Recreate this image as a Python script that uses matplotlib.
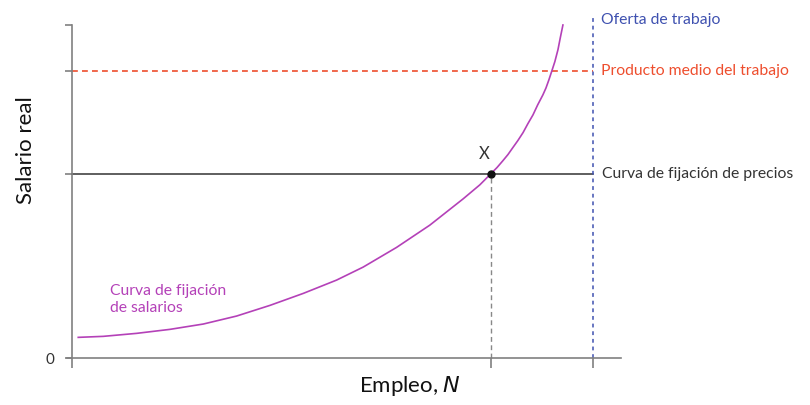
import matplotlib
matplotlib.use("Agg")
import matplotlib.pyplot as plt

plt.rcParams['font.family'] = ['Lato', 'DejaVu Sans']

# --- datos (unidades arbitrarias, eje de 0 a 100) ---
curva_x = [1.2, 6.0, 12.4, 18.8, 25.2, 31.6, 38.0, 44.4, 50.8, 55.9, 62.3,
           68.7, 75.1, 78.3, 80.4, 81.6, 82.7, 83.7, 84.6, 85.6, 86.6, 87.5,
           88.5, 89.4, 90.4, 91.0, 91.55, 92.1, 92.7, 93.3, 93.75, 94.25]
curva_y = [6.2, 6.5, 7.4, 8.6, 10.2, 12.6, 15.8, 19.4, 23.4, 27.3, 33.2,
           39.9, 47.8, 52.0, 55.3, 57.2, 59.2, 61.1, 63.1, 65.3, 67.7, 70.3,
           73.0, 76.0, 79.0, 81.1, 83.5, 86.1, 89.0, 92.6, 96.2, 100.0]

precio = 55.3            # curva de fijación de precios
producto_medio = 86.2    # producto medio del trabajo
oferta = 100.0           # oferta de trabajo
empleo_x = 80.4          # punto X
y_top = 100.0

gris = "#808080"
negro = "#333333"
rojo = "#ee4e2e"
azul = "#3f51b0"
morado = "#b441b8"

fig = plt.figure(figsize=(8.1, 4.05), dpi=100)
ax = fig.add_axes([67 / 810, 40 / 405, 554 / 810, 350 / 405])
ax.set_xlim(-0.96, 105.4)
ax.set_ylim(-2.1, 103.0)

for s in ["top", "right"]:
    ax.spines[s].set_visible(False)
ax.spines["left"].set_position(("data", 0))
ax.spines["bottom"].set_position(("data", 0))
ax.spines["left"].set_bounds(0, y_top)
for s in ["left", "bottom"]:
    ax.spines[s].set_color(gris)
    ax.spines[s].set_linewidth(1.2)

ax.set_yticks([0, precio, producto_medio, y_top])
ax.set_yticklabels(["0", "", "", ""])
ax.set_xticks([0, empleo_x, oferta])
ax.set_xticklabels(["", "", ""])
ax.tick_params(axis="y", direction="out", length=5, width=1.2, color=gris,
               labelsize=11, labelcolor="#333333", pad=8)
ax.tick_params(axis="x", direction="out", length=7, width=1.2, color=gris)

# líneas horizontales y verticales
ax.plot([0, oferta], [precio, precio], color=negro, lw=1.1)
ax.plot([0, oferta], [producto_medio, producto_medio], color=rojo, lw=1.2,
        dashes=(3.5, 2.5))
ax.plot([oferta, oferta], [0, 102.4], color=azul, lw=1.1, dashes=(2.5, 2.5))
ax.plot([empleo_x, empleo_x], [0, precio], color="#888888", lw=1.0, dashes=(3.5, 2.5))

# curva de fijación de salarios
ax.plot(curva_x, curva_y, color=morado, lw=1.2, solid_joinstyle="round")
ax.plot([empleo_x], [precio], "o", color="#111111", ms=5, zorder=5)

# etiquetas
fs = 11.3
ax.text(empleo_x - 1.3, precio + 3.5, "X", fontsize=12, color=negro,
        ha="center", va="bottom")
ax.text(101.5, 101.5, "Oferta de trabajo", fontsize=fs, color=azul,
        ha="left", va="center", clip_on=False)
ax.text(101.5, producto_medio, "Producto medio del trabajo", fontsize=fs,
        color=rojo, ha="left", va="center", clip_on=False)
ax.text(101.8, precio, "Curva de fijación de precios", fontsize=fs,
        color=negro, ha="left", va="center", clip_on=False)
ax.text(7.3, 17.5, "Curva de fijación\nde salarios", fontsize=fs,
        color=morado, ha="left", va="center", linespacing=1.3)

ax.set_ylabel("Salario real", fontsize=16, color="#111111")
ax.yaxis.set_label_coords(-31 / 554, (365 - 150) / 350)
ax.set_xlabel("Empleo, $\\it{N}$", fontsize=16, color="#111111")
ax.xaxis.set_label_coords((410 - 67) / 554, -9 / 350)

fig.savefig("out.png", dpi=100)
